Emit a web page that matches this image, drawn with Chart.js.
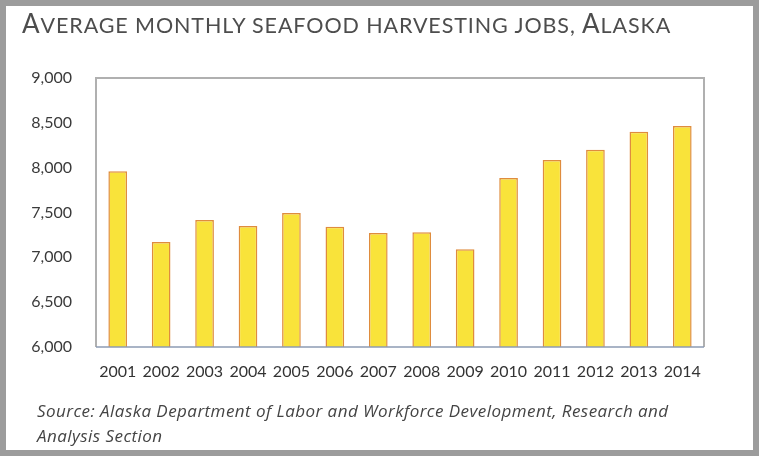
<!DOCTYPE html>
<html>
<head>
<meta charset="utf-8">
<script src="https://cdn.jsdelivr.net/npm/chart.js@4.4.1/dist/chart.umd.min.js"></script>
<style>
  html, body { margin: 0; padding: 0; }
  body { width: 759px; height: 456px; position: relative; overflow: hidden; background: #fff; font-family: Lato, "Open Sans", sans-serif; }
  #frame { position: absolute; left: 0; top: 0; width: 747px; height: 444px; border: 6px solid #9c9c9c; }
  #title { position: absolute; left: 22px; top: 7px; color: #4d4d4d; white-space: nowrap; font-family: Lato, sans-serif; letter-spacing: 0.9px; }
  #title .b { font-size: 26px; }
  #title .s { font-size: 21.5px; text-transform: uppercase; }
  #source { position: absolute; left: 37px; top: 398px; font-family: "Open Sans", sans-serif; font-size: 17px; font-style: italic; color: #444; line-height: 25px; width: 710px; white-space: nowrap; letter-spacing: 0.45px; }
  #wrap { position: absolute; left: 0; top: 0; width: 759px; height: 456px; }
</style>
</head>
<body>
<div id="wrap"><canvas id="chart"></canvas></div>
<div id="frame"></div>
<div id="title"><span class="b">A</span><span class="s">verage monthly seafood harvesting jobs, </span><span class="b">A</span><span class="s">laska</span></div>
<div id="source">Source: Alaska Department of Labor and Workforce Development, Research and<br>Analysis Section</div>
<script>
// 年別の平均月間雇用者数
const years = ['2001', '2002', '2003', '2004', '2005', '2006', '2007', '2008', '2009', '2010', '2011', '2012', '2013', '2014'];
const jobs = [7960, 7170, 7415, 7350, 7495, 7340, 7270, 7280, 7090, 7885, 8085, 8200, 8400, 8465];
const yTicks = [6000, 6500, 7000, 7500, 8000, 8500, 9000];

// プロット枠（左・上・右）と下の軸線
const plotFrame = {
  id: 'plotFrame',
  afterDatasetsDraw(chart) {
    const { ctx, chartArea: a } = chart;
    ctx.save();
    ctx.strokeStyle = '#b0b0b0';
    ctx.lineWidth = 2;
    ctx.beginPath();
    ctx.moveTo(a.left, a.bottom);
    ctx.lineTo(a.left, a.top);
    ctx.lineTo(a.right, a.top);
    ctx.lineTo(a.right, a.bottom);
    ctx.stroke();
    ctx.strokeStyle = '#8d9bb3';
    ctx.lineWidth = 1.5;
    ctx.beginPath();
    ctx.moveTo(a.left, a.bottom);
    ctx.lineTo(a.right, a.bottom);
    ctx.stroke();
    ctx.restore();
  }
};

new Chart(document.getElementById('chart'), {
  type: 'bar',
  data: {
    labels: years,
    datasets: [{
      data: jobs,
      backgroundColor: '#f9e33a',
      borderColor: '#df8c3e',
      borderWidth: 1.5,
      categoryPercentage: 1,
      barPercentage: 0.43
    }]
  },
  options: {
    responsive: true,
    maintainAspectRatio: false,
    animation: false,
    layout: { padding: { top: 78, right: 55, left: 0, bottom: 0 } },
    plugins: { legend: { display: false }, tooltip: { enabled: false } },
    scales: {
      x: {
        grid: { display: false },
        border: { display: false },
        ticks: { color: '#333', font: { family: 'Lato', size: 16 }, padding: 7, maxRotation: 0, autoSkip: false },
        afterFit(scale) { scale.height = 109; }
      },
      y: {
        min: 6000,
        max: 9000,
        grid: { display: false },
        border: { display: false },
        afterBuildTicks(scale) { scale.ticks = yTicks.map(v => ({ value: v })); },
        ticks: { color: '#3a3a3a', font: { family: 'Lato', size: 16 }, padding: 16,
          callback: v => v.toLocaleString('en-US') },
        afterFit(scale) { scale.width = 96; }
      }
    }
  },
  plugins: [plotFrame]
});
</script>
</body>
</html>
